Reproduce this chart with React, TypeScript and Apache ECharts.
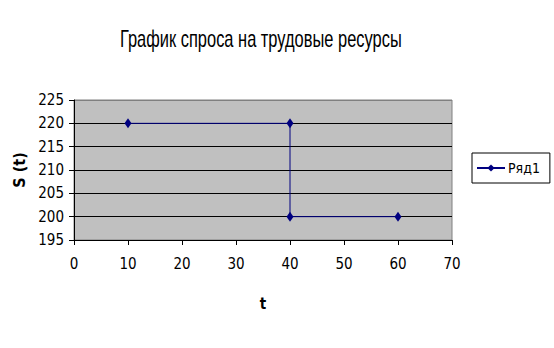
import React, { useEffect, useRef } from "react";
import * as echarts from "echarts";

const titleText = "График спроса на трудовые ресурсы";
const seriesName = "Ряд1";
const xName = "t";
const yName = "S (t)";
const tValues = [10, 40, 40, 60];
const sValues = [220, 220, 200, 200];

const FONT = "'DejaVu Sans Condensed', 'Liberation Sans', sans-serif";
const TITLE_FONT = "'Liberation Sans', Arial, sans-serif";

function measure(text: string, font: string): number {
  const c = document.createElement("canvas");
  const ctx = c.getContext("2d");
  if (!ctx) return 0;
  ctx.font = font;
  return ctx.measureText(text).width;
}

export default function App() {
  const ref = useRef<HTMLDivElement>(null);
  useEffect(() => {
    if (!ref.current) return;
    const chart = echarts.init(ref.current, undefined, { renderer: "svg" });
    const data = tValues.map((t, i) => [t, sValues[i]]);
    const titleSize = 23;
    const w = measure(titleText, `${titleSize}px 'Liberation Sans'`) || 380;
    const sx = 282 / w;
    chart.setOption({
      animation: false,
      backgroundColor: "#ffffff",
      textStyle: { fontFamily: FONT, color: "#000" },
      graphic: [
        {
          type: "text",
          x: 120,
          y: 39,
          scaleX: sx,
          scaleY: 1,
          style: {
            text: titleText,
            fontFamily: TITLE_FONT,
            fontSize: titleSize,
            fill: "#000",
            textAlign: "left",
            textVerticalAlign: "middle",
          },
        },
      ],
      legend: {
        data: [seriesName],
        left: 472,
        top: 153,
        orient: "vertical",
        padding: [8, 10, 8, 4],
        borderColor: "#000",
        borderWidth: 1,
        itemWidth: 28,
        itemHeight: 9,
        itemGap: 0,
        textStyle: { fontFamily: FONT, fontSize: 14, color: "#000", padding: [0, 0, 0, -2] },
      },
      grid: {
        left: 74,
        top: 100,
        width: 378,
        height: 140,
        show: true,
        backgroundColor: "#c0c0c0",
        borderColor: "#808080",
        borderWidth: 1,
      },
      xAxis: {
        type: "value",
        min: 0,
        max: 70,
        interval: 10,
        name: xName,
        nameLocation: "middle",
        nameGap: 56,
        nameTextStyle: { fontFamily: FONT, fontSize: 15, fontWeight: "bold", color: "#000" },
        axisLine: { show: true, lineStyle: { color: "#000", width: 1 } },
        axisTick: { show: true, length: 5, lineStyle: { color: "#000" } },
        axisLabel: { margin: 16, fontFamily: FONT, fontSize: 15, color: "#000" },
        splitLine: { show: false },
      },
      yAxis: {
        type: "value",
        min: 195,
        max: 225,
        interval: 5,
        name: yName,
        nameLocation: "middle",
        nameGap: 40,
        nameRotate: 90,
        nameTextStyle: { fontFamily: FONT, fontSize: 16, fontWeight: "bold", color: "#000" },
        axisLine: { show: true, lineStyle: { color: "#000", width: 1 } },
        axisTick: { show: true, length: 5, lineStyle: { color: "#000" } },
        axisLabel: { margin: 10, fontFamily: FONT, fontSize: 15, color: "#000" },
        splitLine: {
          show: true,
          lineStyle: {
            color: ["#000", "#000", "#000", "#000", "#000", "#000", "#808080"],
            width: 1,
          },
        },
      },
      series: [
        {
          name: seriesName,
          type: "line",
          data,
          symbol: "diamond",
          symbolSize: [7, 10],
          itemStyle: { color: "#000080" },
          lineStyle: { color: "#000080", width: 1 },
        },
      ],
    });
    return () => chart.dispose();
  }, []);
  return <div ref={ref} style={{ width: 554, height: 348, position: "absolute", left: 0, top: 0 }} />;
}
